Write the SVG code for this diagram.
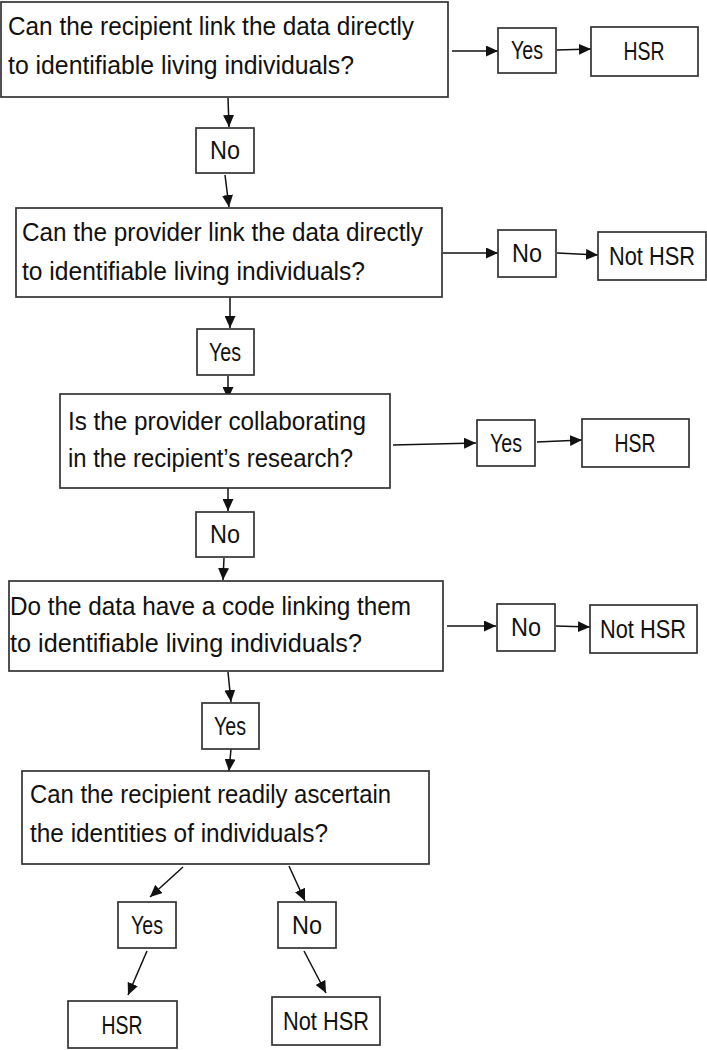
<svg xmlns="http://www.w3.org/2000/svg" width="707" height="1050" viewBox="0 0 707 1050">
<style>
.box{fill:#fff;stroke:#333;stroke-width:1.7}
.t{font-family:"Liberation Sans",Arial,sans-serif;font-size:25px;fill:#111}
.c{text-anchor:middle}
.edge{stroke:#111;stroke-width:1.5;fill:none;marker-end:url(#ah)}
</style>
<defs>
<marker id="ah" markerUnits="userSpaceOnUse" markerWidth="13" markerHeight="11" refX="12" refY="5.5" orient="auto">
<path d="M0,0 L12,5.5 L0,11 z" fill="#111"/>
</marker>
</defs>
<rect width="707" height="1050" fill="#fff"/>
<g id="connectors">
<line class="edge" x1="452" y1="51" x2="498" y2="51"/>
<line class="edge" x1="557" y1="50" x2="591" y2="49"/>
<line class="edge" x1="228" y1="98" x2="229" y2="127"/>
<line class="edge" x1="225" y1="175" x2="229" y2="207"/>
<line class="edge" x1="443" y1="253" x2="498" y2="253"/>
<line class="edge" x1="557" y1="253" x2="598" y2="255"/>
<line class="edge" x1="230" y1="297" x2="230" y2="328"/>
<line class="edge" x1="228" y1="376" x2="228" y2="399"/>
<line class="edge" x1="393" y1="445" x2="476" y2="443"/>
<line class="edge" x1="537" y1="442" x2="582" y2="440"/>
<line class="edge" x1="228" y1="488" x2="228" y2="511"/>
<line class="edge" x1="224" y1="558" x2="223" y2="580"/>
<line class="edge" x1="447" y1="626" x2="496" y2="626"/>
<line class="edge" x1="556" y1="626" x2="590" y2="627"/>
<line class="edge" x1="228" y1="672" x2="231" y2="702"/>
<line class="edge" x1="231" y1="749" x2="229" y2="771"/>
<line class="edge" x1="183" y1="867" x2="150" y2="897"/>
<line class="edge" x1="289" y1="866" x2="305" y2="901"/>
<line class="edge" x1="147" y1="951" x2="128" y2="995"/>
<line class="edge" x1="304" y1="951" x2="326" y2="993"/>
</g>
<g id="q1">
<rect class="box" x="1" y="2" width="447" height="95"/>
<text class="t" x="8" y="35" textLength="406" lengthAdjust="spacingAndGlyphs">Can the recipient link the data directly</text>
<text class="t" x="8" y="74" textLength="346" lengthAdjust="spacingAndGlyphs">to identifiable living individuals?</text>
</g>
<g id="yes1"><rect class="box" x="498" y="28" width="58" height="45"/><text class="t c" x="527" y="59" textLength="32" lengthAdjust="spacingAndGlyphs">Yes</text></g>
<g id="hsr1"><rect class="box" x="591" y="27" width="107" height="49"/><text class="t c" x="644" y="60" textLength="41" lengthAdjust="spacingAndGlyphs">HSR</text></g>
<g id="no1"><rect class="box" x="196" y="128" width="58" height="45"/><text class="t c" x="225" y="159" textLength="30" lengthAdjust="spacingAndGlyphs">No</text></g>
<g id="q2">
<rect class="box" x="16" y="208" width="426" height="89"/>
<text class="t" x="22" y="241" textLength="401" lengthAdjust="spacingAndGlyphs">Can the provider link the data directly</text>
<text class="t" x="22" y="280" textLength="343" lengthAdjust="spacingAndGlyphs">to identifiable living individuals?</text>
</g>
<g id="no2"><rect class="box" x="498" y="230" width="58" height="47"/><text class="t c" x="527" y="262" textLength="30" lengthAdjust="spacingAndGlyphs">No</text></g>
<g id="nothsr2"><rect class="box" x="598" y="232" width="108" height="48"/><text class="t c" x="652" y="265" textLength="86" lengthAdjust="spacingAndGlyphs">Not HSR</text></g>
<g id="yes2"><rect class="box" x="197" y="329" width="57" height="46"/><text class="t c" x="225" y="361" textLength="32" lengthAdjust="spacingAndGlyphs">Yes</text></g>
<g id="q3">
<rect class="box" x="60" y="394" width="330" height="94"/>
<text class="t" x="68" y="430" textLength="298" lengthAdjust="spacingAndGlyphs">Is the provider collaborating</text>
<text class="t" x="68" y="467" textLength="285" lengthAdjust="spacingAndGlyphs">in the recipient’s research?</text>
</g>
<g id="yes3"><rect class="box" x="477" y="420" width="58" height="46"/><text class="t c" x="506" y="452" textLength="32" lengthAdjust="spacingAndGlyphs">Yes</text></g>
<g id="hsr3"><rect class="box" x="582" y="419" width="107" height="48"/><text class="t c" x="635" y="452" textLength="41" lengthAdjust="spacingAndGlyphs">HSR</text></g>
<g id="no3"><rect class="box" x="196" y="512" width="58" height="45"/><text class="t c" x="225" y="543" textLength="30" lengthAdjust="spacingAndGlyphs">No</text></g>
<g id="q4">
<rect class="box" x="9" y="581" width="434" height="90"/>
<text class="t" x="10" y="615" textLength="401" lengthAdjust="spacingAndGlyphs">Do the data have a code linking them</text>
<text class="t" x="10" y="652" textLength="352" lengthAdjust="spacingAndGlyphs">to identifiable living individuals?</text>
</g>
<g id="no4"><rect class="box" x="497" y="604" width="58" height="47"/><text class="t c" x="526" y="636" textLength="30" lengthAdjust="spacingAndGlyphs">No</text></g>
<g id="nothsr4"><rect class="box" x="590" y="605" width="107" height="48"/><text class="t c" x="643" y="638" textLength="86" lengthAdjust="spacingAndGlyphs">Not HSR</text></g>
<g id="yes4"><rect class="box" x="202" y="703" width="57" height="46"/><text class="t c" x="230" y="735" textLength="32" lengthAdjust="spacingAndGlyphs">Yes</text></g>
<g id="q5">
<rect class="box" x="22" y="771" width="407" height="93"/>
<text class="t" x="30" y="803" textLength="361" lengthAdjust="spacingAndGlyphs">Can the recipient readily ascertain</text>
<text class="t" x="30" y="842" textLength="298" lengthAdjust="spacingAndGlyphs">the identities of individuals?</text>
</g>
<g id="yes5"><rect class="box" x="118" y="902" width="58" height="46"/><text class="t c" x="147" y="934" textLength="32" lengthAdjust="spacingAndGlyphs">Yes</text></g>
<g id="no5"><rect class="box" x="278" y="902" width="58" height="46"/><text class="t c" x="307" y="934" textLength="30" lengthAdjust="spacingAndGlyphs">No</text></g>
<g id="hsr5"><rect class="box" x="68" y="1001" width="109" height="47"/><text class="t c" x="122" y="1034" textLength="41" lengthAdjust="spacingAndGlyphs">HSR</text></g>
<g id="nothsr5"><rect class="box" x="272" y="997" width="108" height="48"/><text class="t c" x="326" y="1030" textLength="86" lengthAdjust="spacingAndGlyphs">Not HSR</text></g>
</svg>
